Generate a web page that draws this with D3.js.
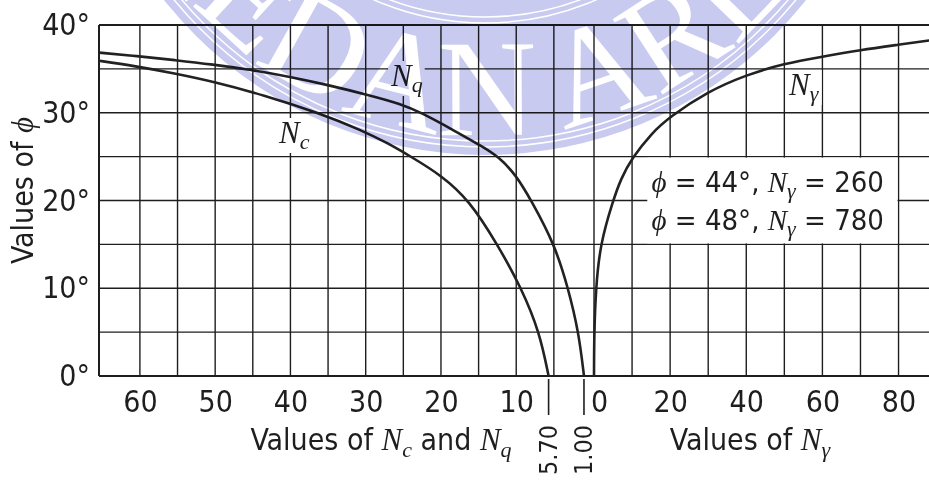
<!DOCTYPE html>
<html>
<head>
<meta charset="utf-8">
<script src="https://cdn.jsdelivr.net/npm/d3@7"></script>
<style>
  body { margin: 0; background: #fff; }
  svg { display: block; }
</style>
</head>
<body>
<svg id="chart" width="929" height="481"></svg>
<script>
// friction angle (deg) vs bearing capacity factors
const phiNc = [0, 5, 10, 15, 20, 22.9, 25, 26.5, 28, 30, 32, 33.5, 34.5, 35.3, 36];
const valNc = [5.7, 6.9, 9.3, 12.5, 16.2, 20, 24, 27, 30.5, 36.3, 43.5, 50, 55.5, 60.5, 66];

const phiNq = [0, 5, 10, 15, 20, 23, 25, 26, 28, 30, 31, 32, 33.2, 34.1, 34.9, 35.5, 36, 36.45, 36.9];
const valNq = [1.0, 1.7, 3.1, 4.9, 8.0, 10.1, 12.4, 14.2, 18.3, 22.6, 25.3, 29.5, 35.2, 40, 45.3, 50.3, 55.3, 60.3, 66];

const phiNg = [0, 5, 10, 15, 20, 22.5, 24.8, 27.7, 29.5, 32.4, 34.3, 35.6, 36.4, 37.15, 37.75, 38.3];
const valNg = [0, 0.05, 0.5, 1.6, 5.0, 7.1, 9.9, 15.2, 19.8, 29.8, 39.9, 49.9, 60, 70, 80, 89];

// axes / grid
const phiTicks = [0, 10, 20, 30, 40];
const phiGrid = [0, 5, 10, 15, 20, 25, 30, 35, 40];
const ncTicks = [60, 50, 40, 30, 20, 10];
const ncGrid = [5, 10, 15, 20, 25, 30, 35, 40, 45, 50, 55, 60];
const ngTicks = [0, 20, 40, 60, 80];
const ngGrid = [0, 10, 20, 30, 40, 50, 60, 70, 80];
const zeroMarks = [5.70, 1.00];

// note in the box
const notePhi = [44, 48];
const noteNg = [260, 780];

const sans = '"Liberation Sans Narrow", "DejaVu Sans Condensed", "Liberation Sans", sans-serif';
const serif = '"Liberation Serif", "DejaVu Serif", serif';
const ink = '#1e1e1e';

const svg = d3.select('#chart');

const pL = 99, pR = 929, pT = 25, pB = 376;

const y = d3.scaleLinear().domain([0, 40]).range([pB, pT]);
const xL = d3.scaleLinear().domain([0, 65.5]).range([591.5, 98.5]); // Nc, Nq (runs right to left)
const xR = d3.scaleLinear().domain([0, 88]).range([594, pR]);       // N gamma

// grid
const grid = svg.append('g').attr('stroke', ink);
grid.selectAll('.h').data(phiGrid).join('line')
    .attr('x1', pL).attr('x2', pR)
    .attr('y1', d => y(d)).attr('y2', d => y(d))
    .attr('stroke-width', d => (d === 0 || d === 40) ? 2 : 1.4);
grid.selectAll('.vl').data(ncGrid).join('line')
    .attr('x1', d => xL(d)).attr('x2', d => xL(d))
    .attr('y1', pT).attr('y2', pB)
    .attr('stroke-width', 1.4);
grid.selectAll('.vr').data(ngGrid).join('line')
    .attr('x1', d => xR(d)).attr('x2', d => xR(d))
    .attr('y1', pT).attr('y2', pB)
    .attr('stroke-width', 1.4);
grid.append('line')
    .attr('x1', pL).attr('x2', pL).attr('y1', pT).attr('y2', pB)
    .attr('stroke-width', 2);

// white box for the note
svg.append('rect')
    .attr('x', xR(14)).attr('y', y(25) + 1)
    .attr('width', xR(80) - xR(14) - 1).attr('height', y(15) - y(25) - 2)
    .attr('fill', '#fff');

// curves
svg.append('clipPath').attr('id', 'plot')
    .append('rect').attr('x', pL).attr('y', pT).attr('width', pR - pL).attr('height', pB - pT);

const curves = [
    { phi: phiNc, val: valNc, x: xL },
    { phi: phiNq, val: valNq, x: xL },
    { phi: phiNg, val: valNg, x: xR },
];

svg.append('g').attr('clip-path', 'url(#plot)')
    .selectAll('path').data(curves).join('path')
    .attr('fill', 'none').attr('stroke', '#222').attr('stroke-width', 2.6)
    .attr('d', c => d3.line()
        .x(d => c.x(d[1]))
        .y(d => y(d[0]))
        .curve(d3.curveBasis)(d3.zip(c.phi, c.val)));

// curve labels on a white patch
function curveLabel(x, yb, sub) {
    const g = svg.append('g');
    const t = g.append('text').attr('x', x).attr('y', yb)
        .attr('font-family', serif).attr('font-style', 'italic').attr('font-size', 31).attr('fill', ink);
    t.append('tspan').text('N');
    t.append('tspan').attr('font-size', 22).attr('dy', 6).text(sub);
    const b = t.node().getBBox();
    g.insert('rect', 'text').attr('x', b.x - 2).attr('y', b.y + 3)
        .attr('width', b.width + 4).attr('height', b.height - 4).attr('fill', '#fff');
}
curveLabel(391, 86, 'q');
curveLabel(279, 143, 'c');
curveLabel(789, 95, 'γ');

// note text
notePhi.forEach((p, i) => {
    const t = svg.append('text')
        .attr('x', xR(15.1)).attr('y', y(25) + 35 + i * 38)
        .attr('font-family', sans).attr('font-size', 29).attr('fill', ink);
    t.append('tspan').attr('font-family', serif).attr('font-style', 'italic').text('ϕ');
    t.append('tspan').text(` = ${p}°, `);
    t.append('tspan').attr('font-family', serif).attr('font-style', 'italic').text('N');
    t.append('tspan').attr('font-family', serif).attr('font-style', 'italic').attr('font-size', 22).attr('dy', 6).text('γ');
    t.append('tspan').attr('dy', -6).text(` = ${noteNg[i]}`);
});

// axes
const yAxis = svg.append('g').attr('transform', `translate(${pL},0)`)
    .call(d3.axisLeft(y).tickValues(phiTicks).tickSize(0).tickPadding(9).tickFormat(d => d + '°'));
const axL = svg.append('g').attr('transform', `translate(0,${pB})`)
    .call(d3.axisBottom(xL).tickValues(ncTicks).tickSize(0).tickPadding(15));
const axR = svg.append('g').attr('transform', `translate(0,${pB})`)
    .call(d3.axisBottom(xR).tickValues(ngTicks).tickSize(0).tickPadding(15));
[yAxis, axL, axR].forEach(a => {
    a.select('.domain').remove();
    a.selectAll('text').attr('font-family', sans).attr('font-size', 30).attr('fill', ink);
});
axR.selectAll('text').filter(d => d === 0).attr('dx', 5);

// the two zero-angle markers
svg.append('g').selectAll('line').data(zeroMarks).join('line')
    .attr('x1', d => xL(d)).attr('x2', d => xL(d))
    .attr('y1', pB + 3).attr('y2', pB + 39)
    .attr('stroke', ink).attr('stroke-width', 1.6);
svg.append('g').selectAll('text').data(zeroMarks).join('text')
    .attr('transform', d => `translate(${xL(d) + 8},${pB + 74}) rotate(-90)`)
    .attr('text-anchor', 'middle')
    .attr('font-family', sans).attr('font-size', 25).attr('fill', ink)
    .text(d => d.toFixed(2));

// axis titles
function title(x, yb, parts) {
    const t = svg.append('text').attr('x', x).attr('y', yb).attr('text-anchor', 'middle')
        .attr('font-family', sans).attr('font-size', 30).attr('fill', ink);
    parts.forEach(p => {
        const s = t.append('tspan').text(p[0]);
        if (p[1] === 'it') s.attr('font-family', serif).attr('font-style', 'italic').attr('font-size', 31);
        if (p[1] === 'sub') s.attr('font-family', serif).attr('font-style', 'italic').attr('font-size', 22).attr('dy', 7);
        if (p[1] === 'up') s.attr('dy', -7);
    });
    return t;
}
title(381, 450, [['Values of '], ['N', 'it'], ['c', 'sub'], [' and', 'up'], [' '], ['N', 'it'], ['q', 'sub']]);
title(750, 450, [['Values of '], ['N', 'it'], ['γ', 'sub']]);
title(0, 0, [['Values of '], ['ϕ', 'it']]).attr('transform', `translate(33,${(pT + pB) / 2 - 10}) rotate(-90)`);

// faint university watermark across the top
const wm = svg.append('g').style('mix-blend-mode', 'multiply');
const cx = 485, cy = -255;
wm.append('path')
    .attr('transform', `translate(${cx},${cy})`)
    .attr('d', d3.arc()({ innerRadius: 240, outerRadius: 410, startAngle: 0, endAngle: 2 * Math.PI }))
    .attr('fill', '#c8caf0');
wm.selectAll('circle').data([272, 278, 396, 402]).join('circle')
    .attr('cx', cx).attr('cy', cy).attr('r', d => d)
    .attr('fill', 'none').attr('stroke', '#fff').attr('stroke-width', 1.5);
wm.append('path').attr('id', 'wmArc').attr('fill', 'none')
    .attr('d', `M${cx - 390},${cy} A390,390 0 0 0 ${cx + 390},${cy}`);
wm.append('text')
    .attr('font-family', serif).attr('font-size', 138).attr('fill', '#fff')
    .append('textPath').attr('href', '#wmArc').attr('startOffset', '50%').attr('text-anchor', 'middle')
    .text('MEDAN AREA');
</script>
</body>
</html>
